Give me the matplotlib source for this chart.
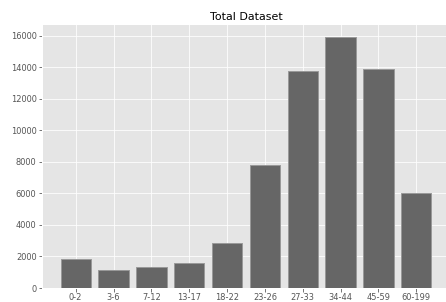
import matplotlib
matplotlib.use("Agg")
import matplotlib.pyplot as plt

plt.style.use("ggplot")

groups = ["0-2", "3-6", "7-12", "13-17", "18-22", "23-26", "27-33", "34-44", "45-59", "60-199"]
counts = [1820, 1120, 1330, 1590, 2860, 7830, 13780, 15960, 13890, 6030]

fig = plt.figure(figsize=(446/72, 302/72), dpi=72)
ax = fig.add_axes([42/446, 14/302, 408/446, 264/302])
ax.bar(groups, counts, color="#666666", edgecolor="#999999", linewidth=1)
ax.set_title("Total Dataset", fontsize=11, pad=4)
ax.set_yticks(range(0, 16001, 2000))
ax.tick_params(labelsize=8.2, pad=2)

fig.savefig("out.png", dpi=72)
